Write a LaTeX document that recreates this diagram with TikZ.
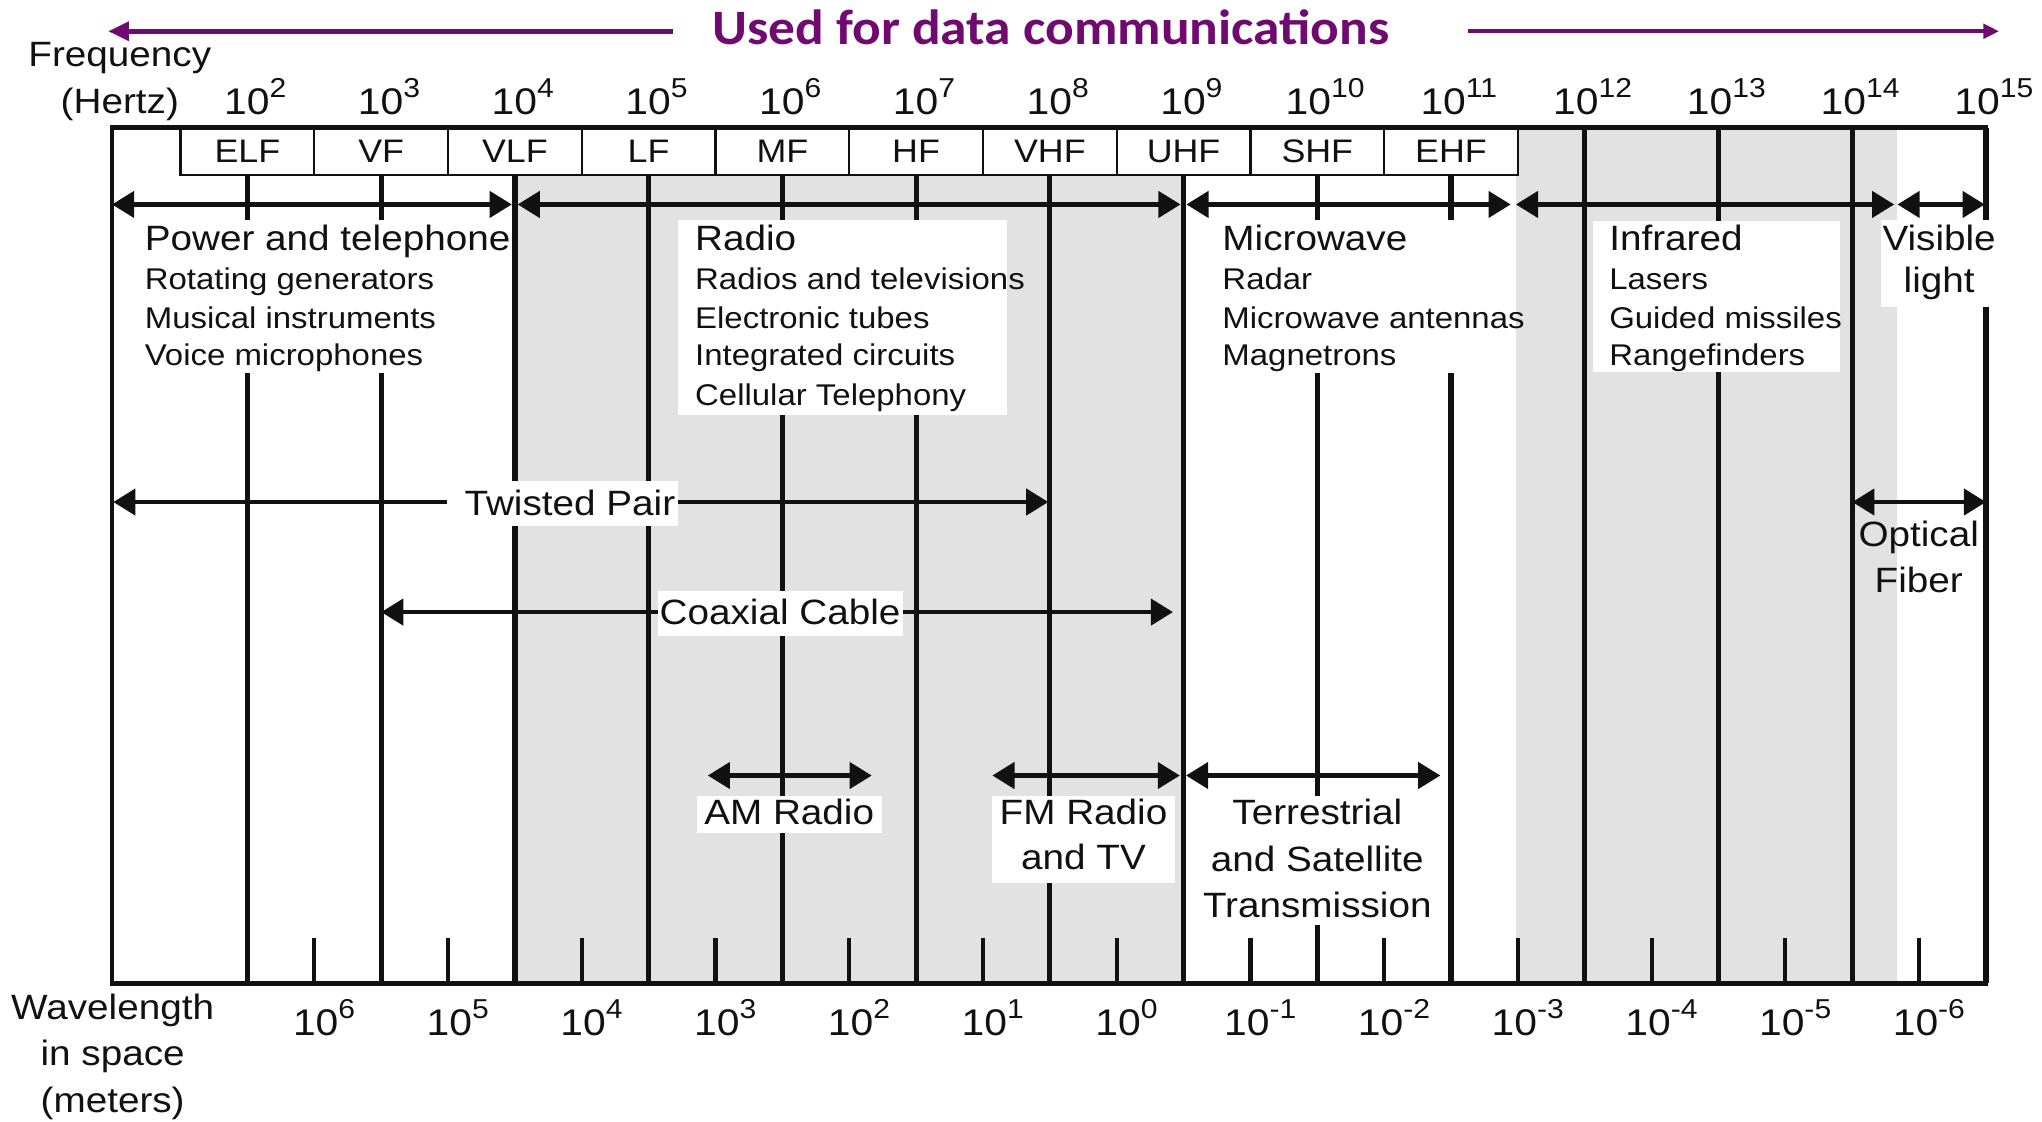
\documentclass[tikz,border=0pt]{standalone}
\usepackage{fontspec}
\setmainfont{Liberation Sans}[FakeStretch=1.1]
\newfontfamily\titlefont{Carlito}[FakeStretch=1.08]
\usetikzlibrary{arrows.meta}
\definecolor{bandgray}{RGB}{226,226,226}
\definecolor{ttlpurple}{RGB}{112,10,112}
\definecolor{ink}{RGB}{17,17,17}
\newcommand\fsz[1]{\fontsize{#1}{#1}\selectfont}
\newcommand\tenpow[1]{{\fsz{28.5}10\raisebox{13pt}{\fsz{21}#1}}}
\tikzset{
  txt/.style={inner sep=0pt, text=ink, font=\fsz{27}},
  headtxt/.style={txt, anchor=base west},
  itemtxt/.style={inner sep=0pt, text=ink, font=\fsz{23}, anchor=base west},
  ctrtxt/.style={txt, anchor=base},
  bandbox/.style={draw=ink, line width=1.7pt, fill=white, minimum width=102.69pt, minimum height=36.5pt, inner sep=0pt, text=ink, font=\fsz{25}},
  vline/.style={draw=ink, line width=4pt},
  tickline/.style={draw=ink, line width=3.2pt},
  frameline/.style={draw=ink, line width=3.6pt, line cap=rect},
  spanarrow/.style={draw=ink, line width=3.3pt, {Triangle[length=17pt,width=20pt]}-{Triangle[length=17pt,width=20pt]}},
  cover/.style={fill=white},
}
\begin{document}
\begin{tikzpicture}[x=1pt,y=-1pt]
\useasboundingbox (0,0) rectangle (1568,861);
% shaded regions
\fill[bandgray] (395.4,134.5) rectangle (908.8,755);
\fill[bandgray] (1164,98) rectangle (1456.5,755);
% decade lines
\foreach \n in {2,...,11}{
  \pgfmathsetmacro\xx{190+(\n-2)*102.69}
  \draw[vline] (\xx,134.5) -- (\xx,755);
}
\foreach \n in {12,...,15}{
  \pgfmathsetmacro\xx{190+(\n-2)*102.69}
  \draw[vline] (\xx,98) -- (\xx,755);
}
% bottom ticks
\foreach \k in {2,...,14}{
  \pgfmathsetmacro\xx{241.35+(\k-2)*102.69}
  \draw[tickline] (\xx,720) -- (\xx,755);
}
% white backgrounds of the text blocks
\fill[cover] (100,169) rectangle (389,286.5);
\fill[cover] (520.6,169) rectangle (773.5,318.5);
\fill[cover] (925,169) rectangle (1162,286.5);
\fill[cover] (1223,169.5) rectangle (1413,285.5);
\fill[cover] (1444,169) rectangle (1534,235.5);
\fill[cover] (918,611) rectangle (1104,710);
% range arrows, first row
\coordinate (a1) at (86,157);    \coordinate (a2) at (393,157);
\coordinate (b1) at (397.5,157); \coordinate (b2) at (906.5,157);
\coordinate (c1) at (911,157);   \coordinate (c2) at (1160,157);
\coordinate (d1) at (1164,157);  \coordinate (d2) at (1454.5,157);
\coordinate (e1) at (1457,157);  \coordinate (e2) at (1524,157);
\draw[spanarrow] (a1) -- (a2);
\draw[spanarrow] (b1) -- (b2);
\draw[spanarrow] (c1) -- (c2);
\draw[spanarrow] (d1) -- (d2);
\draw[spanarrow] (e1) -- (e2);
% media arrows
\coordinate (tp1) at (87,385.5);   \coordinate (tp2) at (805,385.5);
\coordinate (cx1) at (292.7,470);  \coordinate (cx2) at (900.7,470);
\coordinate (of1) at (1422.3,385.5); \coordinate (of2) at (1525,385.5);
\coordinate (am1) at (543.5,595.5); \coordinate (am2) at (669.4,595.5);
\coordinate (fm1) at (762,595.5);  \coordinate (fm2) at (906,595.5);
\coordinate (ts1) at (910.7,595.5); \coordinate (ts2) at (1106,595.5);
\draw[spanarrow] (tp1) -- (tp2);
\draw[spanarrow] (cx1) -- (cx2);
\draw[spanarrow] (of1) -- (of2);
\draw[spanarrow] (am1) -- (am2);
\draw[spanarrow] (fm1) -- (fm2);
\draw[spanarrow] (ts1) -- (ts2);
% label backgrounds
\fill[cover] (343.6,369) rectangle (520.5,404);
\fill[cover] (505,454) rectangle (693,488);
\fill[cover] (535,611) rectangle (677,640);
\fill[cover] (762,611) rectangle (902,678);
% frame
\draw[frameline] (86,755) -- (86,98) -- (1525,98);
\draw[frameline] (86,755) -- (1525,755);
% band boxes
\foreach \n/\bn in {2/ELF,3/VF,4/VLF,5/LF,6/MF,7/HF,8/VHF,9/UHF,10/SHF,11/EHF}{
  \pgfmathsetmacro\xx{190+(\n-2)*102.69}
  \node[bandbox] (band\n) at (\xx,116.25) {\bn};
}
\draw[frameline] (86,98) -- (1525,98);
% frequency labels
\node[ctrtxt] (fq1) at (92,51) {Frequency};
\node[ctrtxt] (fq2) at (92,87) {(Hertz)};
\foreach \n in {2,...,15}{
  \pgfmathsetmacro\xx{196+(\n-2)*102.69}
  \node[ctrtxt] (f\n) at (\xx,88) {\tenpow{\n}};
}
% wavelength labels
\node[ctrtxt] (wl1) at (86.5,783) {Wavelength};
\node[ctrtxt] (wl2) at (86.5,818.5) {in space};
\node[ctrtxt] (wl3) at (86.5,854) {(meters)};
\foreach \k in {2,...,14}{
  \pgfmathsetmacro\xx{248.85+(\k-2)*102.69}
  \pgfmathtruncatemacro\ee{8-\k}
  \node[ctrtxt] (w\k) at (\xx,795) {\tenpow{\ee}};
}
% text blocks
\node[headtxt] (pw0) at (111,192) {Power and telephone};
\node[itemtxt] (pw1) at (111,222) {Rotating generators};
\node[itemtxt] (pw2) at (111,252) {Musical instruments};
\node[itemtxt] (pw3) at (111,281) {Voice microphones};
\node[headtxt] (rd0) at (533.6,192) {Radio};
\node[itemtxt] (rd1) at (533.6,222) {Radios and televisions};
\node[itemtxt] (rd2) at (533.6,252) {Electronic tubes};
\node[itemtxt] (rd3) at (533.6,281) {Integrated circuits};
\node[itemtxt] (rd4) at (533.6,311) {Cellular Telephony};
\node[headtxt] (mw0) at (938.5,192) {Microwave};
\node[itemtxt] (mw1) at (938.5,222) {Radar};
\node[itemtxt] (mw2) at (938.5,252) {Microwave antennas};
\node[itemtxt] (mw3) at (938.5,281) {Magnetrons};
\node[headtxt] (ir0) at (1235.5,192) {Infrared};
\node[itemtxt] (ir1) at (1235.5,222) {Lasers};
\node[itemtxt] (ir2) at (1235.5,252) {Guided missiles};
\node[itemtxt] (ir3) at (1235.5,281) {Rangefinders};
\node[ctrtxt] (vl0) at (1489,192) {Visible};
\node[ctrtxt] (vl1) at (1489,224.5) {light};
% media labels
\node[ctrtxt] (tp) at (437.6,396) {Twisted Pair};
\node[ctrtxt] (cx) at (599,479.7) {Coaxial Cable};
\node[ctrtxt] (of0) at (1473.3,420) {Optical};
\node[ctrtxt] (of1t) at (1473.3,454.7) {Fiber};
\node[ctrtxt] (am) at (606,633) {AM Radio};
\node[ctrtxt] (fm0) at (832,633) {FM Radio};
\node[ctrtxt] (fm1t) at (832,667.5) {and TV};
\node[ctrtxt] (ts0) at (1011.5,633) {Terrestrial};
\node[ctrtxt] (ts1t) at (1011.5,669) {and Satellite};
\node[ctrtxt] (ts2t) at (1011.5,704.5) {Transmission};
% title and its arrows
\node[anchor=base, inner sep=0pt, text=ttlpurple, font=\titlefont\bfseries\fsz{38}] (title) at (807,34.5) {Used for data communications};
\coordinate (pl1) at (517,24); \coordinate (pl2) at (83,24);
\coordinate (pr1) at (1127,24); \coordinate (pr2) at (1535,24);
\draw[ttlpurple, line width=4pt, -{Triangle[length=16pt,width=14pt]}] (pl1) -- (pl2);
\draw[ttlpurple, line width=3pt, -{Triangle[length=12pt,width=11pt]}] (pr1) -- (pr2);
\end{tikzpicture}
\end{document}
